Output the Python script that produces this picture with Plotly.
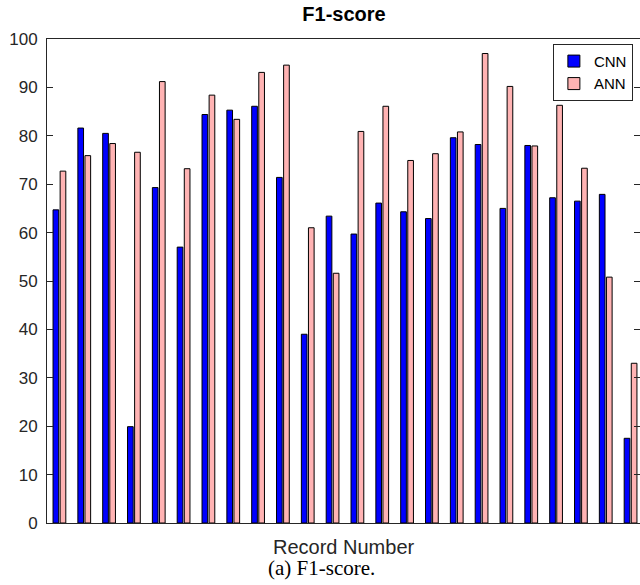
import plotly.graph_objects as go

records = list(range(1, 25))
cnn = [64.7, 81.6, 80.5, 19.9, 69.3, 57.0, 84.4, 85.3, 86.1, 71.4, 39.0, 63.4,
       59.7, 66.1, 64.3, 62.9, 79.6, 78.2, 65.0, 78.0, 67.2, 66.5, 67.9, 17.5]
ann = [72.7, 75.9, 78.4, 76.6, 91.2, 73.2, 88.4, 83.4, 93.1, 94.6, 61.0, 51.6,
       80.9, 86.1, 74.9, 76.3, 80.8, 97.0, 90.2, 77.9, 86.3, 73.3, 50.8, 33.0]
y_ticks = list(range(0, 101, 10))

AX = "#262626"
FONT = "Liberation Sans, Arial, Helvetica, sans-serif"

fig = go.Figure()
fig.add_trace(go.Bar(x=records, y=cnn, name="CNN",
                     marker=dict(color="#0000FF", line=dict(color="black", width=1))))
fig.add_trace(go.Bar(x=records, y=ann, name="ANN",
                     marker=dict(color="#FFB3B3", line=dict(color="black", width=1))))

fig.update_layout(
    width=640, height=585,
    margin=dict(l=47, r=0, t=39, b=62),
    paper_bgcolor="white", plot_bgcolor="white",
    barmode="group", bargap=0.429, bargroupgap=0.2,
    font=dict(family=FONT, size=17, color=AX),
    title=dict(text="<b>F1-score</b>", x=344/640, xref="container", xanchor="center",
               y=1-14/585, yref="container", yanchor="middle",
               font=dict(family=FONT, size=20, color="black")),
    showlegend=True,
    legend=dict(x=0.988, y=0.99, xanchor="right", yanchor="top",
                bgcolor="white", bordercolor=AX, borderwidth=1,
                font=dict(family=FONT, size=15, color="black"),
                tracegroupgap=0, itemwidth=30),
)
fig.update_xaxes(range=[0.5, 24.38], showticklabels=False, ticks="",
                 showgrid=False, zeroline=False, showline=True, linecolor=AX,
                 linewidth=1, mirror=True)
fig.update_yaxes(range=[0, 100], tickvals=y_ticks, ticks="inside", ticklen=6,
                 tickcolor=AX, showgrid=False, zeroline=False, showline=True,
                 linecolor=AX, linewidth=1, mirror="ticks", ticklabelstandoff=5,
                 tickfont=dict(family=FONT, size=17, color=AX))

fig.add_annotation(text="Record Number", xref="paper", yref="paper", x=0.5,
                   y=(522.7-546.7)/483.4, xanchor="center", yanchor="middle",
                   showarrow=False, font=dict(family=FONT, size=20, color=AX))
fig.add_annotation(text="(a) F1-score.", xref="paper", yref="paper", x=(321-47)/593,
                   y=(522.7-567.5)/483.4, xanchor="center", yanchor="middle",
                   showarrow=False,
                   font=dict(family="Liberation Serif, Times New Roman, serif", size=21,
                             color="black"))

fig.write_html("out.html")
